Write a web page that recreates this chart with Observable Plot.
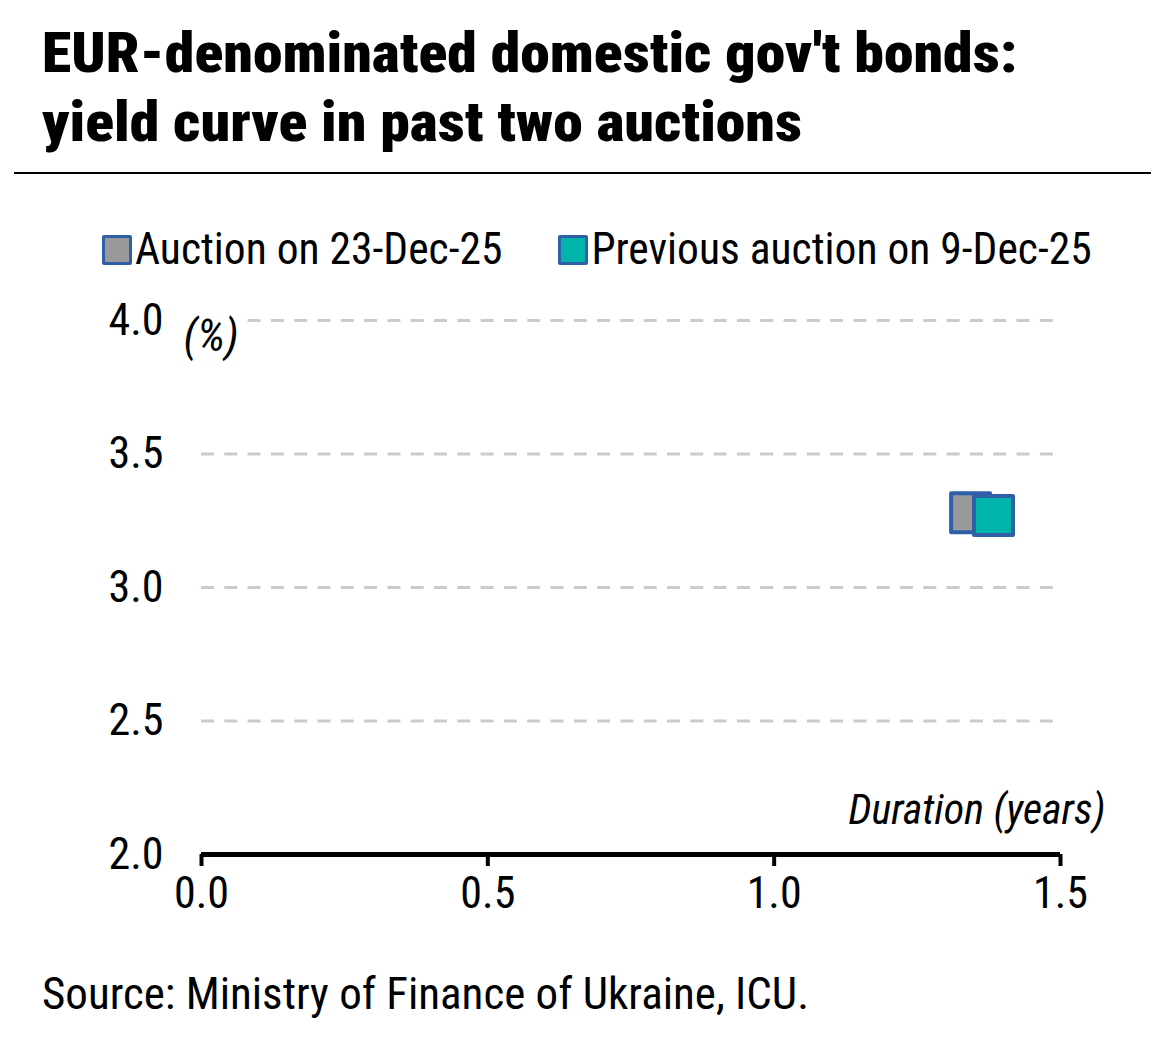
<!DOCTYPE html>
<html><head><meta charset="utf-8">
<script src="https://cdn.jsdelivr.net/npm/d3@7"></script>
<script src="https://cdn.jsdelivr.net/npm/@observablehq/plot@0.6"></script>
<style>
body{margin:0;background:#fff;width:1157px;height:1049px;position:relative;overflow:hidden;
 font-family:"Roboto",sans-serif;font-stretch:75%;color:#000}
#title{position:absolute;left:42px;top:19px;font-size:55px;font-weight:900;line-height:69px;white-space:nowrap;transform:scaleX(1.087);transform-origin:0 0}
#rule{position:absolute;left:14px;top:172px;width:1137px;height:2px;background:#000}
#legend{position:absolute;left:102px;top:226px;font-size:43.5px;line-height:48px;display:flex;white-space:nowrap}
.item{display:flex;align-items:center;margin-right:56px}
.sw{width:24px;height:24px;border:3px solid #2F5FA7;border-radius:2px;margin-right:3px}
#chart{position:absolute;left:0;top:290px}
#chart svg{font-stretch:75%}
#source{position:absolute;left:42px;top:967px;font-size:45px;white-space:nowrap}
</style></head>
<body>
<div id="title">EUR-denominated domestic gov't bonds:<br>yield curve in past two auctions</div>
<div id="rule"></div>
<div id="legend"></div>
<div id="chart"></div>
<div id="source">Source: Ministry of Finance of Ukraine, ICU.</div>
<script>
const series = ["Auction on 23-Dec-25", "Previous auction on 9-Dec-25"];
const colors = ["#999999", "#00B4A9"];
const duration = [1.343, 1.383];
const yieldPct = [3.28, 3.27];
const yTicks = [2.0, 2.5, 3.0, 3.5, 4.0];
const xTicks = [0.0, 0.5, 1.0, 1.5];
const gridY = [2.5, 3.0, 3.5, 4.0];

const data = series.map((s, i) => ({series: s, x: duration[i], y: yieldPct[i], color: colors[i]}));

const lg = document.getElementById("legend");
series.forEach((s, i) => {
  const it = document.createElement("div"); it.className = "item";
  const sw = document.createElement("div"); sw.className = "sw"; sw.style.background = colors[i];
  const t = document.createElement("span"); t.textContent = s;
  it.appendChild(sw); it.appendChild(t); lg.appendChild(it);
});

const font = 'Roboto, sans-serif';
const chart = Plot.plot({
  width: 1157, height: 640,
  marginLeft: 201, marginRight: 97, marginTop: 30, marginBottom: 76,
  style: {fontFamily: font, fontSize: "44px", color: "#000", background: "transparent"},
  x: {domain: [0, 1.5], ticks: xTicks, tickFormat: d3.format(".1f")},
  y: {domain: [2, 4], ticks: yTicks, tickFormat: d3.format(".1f")},
  marks: [
    Plot.ruleY(gridY, {x1: 0, x2: 1.489, stroke: "#c9cccc", strokeWidth: 3, strokeDasharray: "13,10.3"}),
    Plot.axisY({ticks: yTicks, tickSize: 0, tickPadding: 38, label: null, fontSize: 44}),
    Plot.axisX({ticks: xTicks, tickSize: 12, tickPadding: 10, label: null, stroke: "#000", strokeWidth: 4, fontSize: 44}),
    Plot.ruleY([2], {stroke: "#000", strokeWidth: 5}),
    Plot.text(["(%)"], {frameAnchor: "top-left", dx: -18, dy: 16, textAnchor: "start", lineAnchor: "middle",
      fontStyle: "italic", fontSize: 45, fill: "#000", stroke: "white", strokeWidth: 14}),
    Plot.text(["Duration (years)"], {frameAnchor: "bottom-right", dx: 45, dy: -31, textAnchor: "end", lineAnchor: "bottom",
      fontStyle: "italic", fontSize: 42, fill: "#000"}),
    Plot.dot(data, {x: "x", y: "y", symbol: "square", r: 22, fill: "color", stroke: "#2F5FA7", strokeWidth: 4, strokeLinejoin: "round"})
  ]
});
document.getElementById("chart").appendChild(chart);
</script>
</body></html>
